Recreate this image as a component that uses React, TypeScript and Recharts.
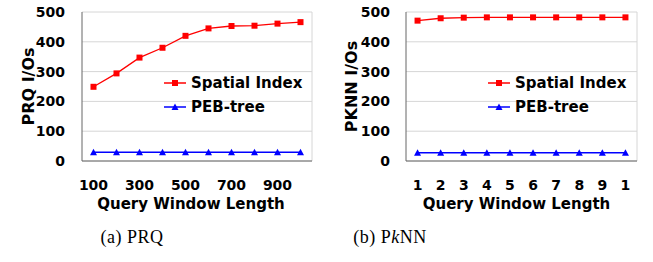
import React from "react";
import {
  LineChart,
  Line,
  XAxis,
  YAxis,
  CartesianGrid,
  ReferenceLine,
  Legend,
} from "recharts";

// (a) PRQ
const windowLengths = [100, 200, 300, 400, 500, 600, 700, 800, 900, 1000];
const prqTicks = [100, 300, 500, 700, 900];
const prqSpatialIndex = [249, 294, 347, 380, 420, 445, 453, 454, 461, 466];
const prqPebTree = [29, 29, 29, 29, 29, 29, 29, 29, 29, 29];

// (b) PkNN
const knnWindowLengths = [1, 2, 3, 4, 5, 6, 7, 8, 9, 10];
const knnTickLabels = ["1", "2", "3", "4", "5", "6", "7", "8", "9", "1"];
const knnSpatialIndex = [471, 479, 481, 482, 482, 482, 482, 482, 482, 482];
const knnPebTree = [28, 28, 28, 28, 28, 28, 28, 28, 28, 28];

const yTicks = [0, 100, 200, 300, 400, 500];
const seriesOrder = ["spatial", "peb"];

const SANS = "'DejaVu Sans', 'Liberation Sans', Arial, sans-serif";
const SERIF = "'Liberation Serif', 'Times New Roman', serif";
const RED = "#ff0000";
const BLUE = "#0000ff";
const AXIS = "#666666";
const GRID = "#d6d6d6";

const SquareDot = (props: any) => {
  const { cx, cy } = props;
  if (cx == null || cy == null) return null;
  return <rect x={cx - 3} y={cy - 3} width={6} height={6} fill={RED} />;
};

const TriangleDot = (props: any) => {
  const { cx, cy } = props;
  if (cx == null || cy == null) return null;
  return (
    <polygon
      points={`${cx - 3.5},${cy + 3} ${cx + 3.5},${cy + 3} ${cx},${cy - 3.5}`}
      fill={BLUE}
    />
  );
};

const LegendBox = (props: any) => {
  const rows = [...(props.payload || [])].sort(
    (a: any, b: any) => seriesOrder.indexOf(a.dataKey) - seriesOrder.indexOf(b.dataKey)
  );
  return (
    <div style={{ fontFamily: SANS, fontWeight: "bold", fontSize: 15, color: "#000" }}>
      {rows.map((r: any) => (
        <div key={r.value} style={{ display: "flex", alignItems: "center", height: 24 }}>
          <svg width={22} height={12}>
            <line x1={0} y1={6} x2={22} y2={6} stroke={r.color} strokeWidth={1.5} />
            {r.dataKey === "spatial" ? (
              <rect x={8} y={3} width={6} height={6} fill={r.color} />
            ) : (
              <polygon points="7.5,9 14.5,9 11,2.5" fill={r.color} />
            )}
          </svg>
          <span style={{ marginLeft: 5, whiteSpace: "nowrap" }}>{r.value}</span>
        </div>
      ))}
    </div>
  );
};

interface PanelProps {
  xs: number[];
  spatial: number[];
  peb: number[];
  ticks: number[];
  tickLabel?: (v: number, i: number) => string;
  yLabel: string;
  width: number;
  yAxisWidth: number;
  rightMargin: number;
  yLabelOffset: number;
  yTickMargin: number;
  xLabelShift: number;
  legendLeft: number;
}

function Panel(p: PanelProps) {
  const data = p.xs.map((x, i) => ({ x, spatial: p.spatial[i], peb: p.peb[i] }));
  const step = p.xs[1] - p.xs[0];
  const domain = [p.xs[0] - step / 2, p.xs[p.xs.length - 1] + step / 2];
  const boundaries = p.xs.slice(1).map((x) => x - step / 2);
  const tickFont = { fontFamily: SANS, fontWeight: "bold", fontSize: 14, fill: "#000" };

  return (
    <LineChart
      width={p.width}
      height={222}
      data={data}
      margin={{ top: 12, right: p.rightMargin, bottom: 0, left: 0 }}
    >
      <CartesianGrid vertical={false} stroke={GRID} />
      <ReferenceLine x={domain[1]} stroke={GRID} />
      <XAxis
        dataKey="x"
        type="number"
        domain={domain}
        ticks={p.ticks}
        tickFormatter={p.tickLabel}
        interval={0}
        height={61}
        tickLine={false}
        tickSize={0}
        tickMargin={19}
        tick={tickFont}
        axisLine={{ stroke: AXIS }}
        label={{
          value: "Query Window Length",
          position: "insideBottom",
          offset: 13,
          dx: p.xLabelShift,
          style: { fontFamily: SANS, fontWeight: "bold", fontSize: 15, fill: "#000" },
        }}
      />
      <XAxis
        xAxisId="b"
        type="number"
        domain={domain}
        ticks={boundaries}
        interval={0}
        mirror
        height={0}
        tick={false}
        tickSize={6}
        tickLine={{ stroke: AXIS }}
        axisLine={false}
      />
      <YAxis
        domain={[0, 500]}
        ticks={yTicks}
        interval={0}
        width={p.yAxisWidth}
        tickLine={false}
        tickSize={0}
        tickMargin={p.yTickMargin}
        tick={tickFont}
        axisLine={{ stroke: AXIS }}
        label={{
          value: p.yLabel,
          angle: -90,
          position: "insideLeft",
          offset: p.yLabelOffset,
          style: {
            textAnchor: "middle",
            fontFamily: SANS,
            fontWeight: "bold",
            fontSize: 16,
            fill: "#000",
          },
        }}
      />
      <Legend
        layout="vertical"
        align="center"
        verticalAlign="middle"
        content={LegendBox}
        wrapperStyle={{ left: p.legendLeft, top: 71, width: "auto" }}
      />
      <Line
        dataKey="spatial"
        name="Spatial Index"
        stroke={RED}
        strokeWidth={1.3}
        dot={<SquareDot />}
        activeDot={false}
        isAnimationActive={false}
      />
      <Line
        dataKey="peb"
        name="PEB-tree"
        stroke={BLUE}
        strokeWidth={1.5}
        dot={<TriangleDot />}
        activeDot={false}
        isAnimationActive={false}
      />
    </LineChart>
  );
}

const captionStyle: React.CSSProperties = {
  position: "absolute",
  top: 228,
  fontFamily: SERIF,
  fontSize: 18,
  lineHeight: "18px",
  letterSpacing: 0.5,
  textAlign: "center",
  whiteSpace: "nowrap",
  color: "#000",
};

export default function App() {
  return (
    <div
      style={{
        position: "absolute",
        left: 0,
        top: 0,
        width: 653,
        height: 262,
        background: "#fff",
        overflow: "hidden",
      }}
    >
      <div style={{ position: "absolute", left: 0, top: 0 }}>
        <Panel
          xs={windowLengths}
          spatial={prqSpatialIndex}
          peb={prqPebTree}
          ticks={prqTicks}
          yLabel="PRQ I/Os"
          width={330}
          yAxisWidth={82}
          rightMargin={18}
          yLabelOffset={28}
          yTickMargin={17}
          xLabelShift={-6}
          legendLeft={164}
        />
      </div>
      <div style={{ position: "absolute", left: 330, top: 0 }}>
        <Panel
          xs={knnWindowLengths}
          spatial={knnSpatialIndex}
          peb={knnPebTree}
          ticks={knnWindowLengths}
          tickLabel={(v, i) => knnTickLabels[i] ?? String(v)}
          yLabel="PKNN I/Os"
          width={323}
          yAxisWidth={76}
          rightMargin={16}
          yLabelOffset={21}
          yTickMargin={16}
          xLabelShift={-5}
          legendLeft={158}
        />
      </div>
      <div style={{ ...captionStyle, left: 82, width: 100 }}>(a) PRQ</div>
      <div style={{ ...captionStyle, left: 340, width: 100 }}>
        (b) P<i>k</i>NN
      </div>
    </div>
  );
}
